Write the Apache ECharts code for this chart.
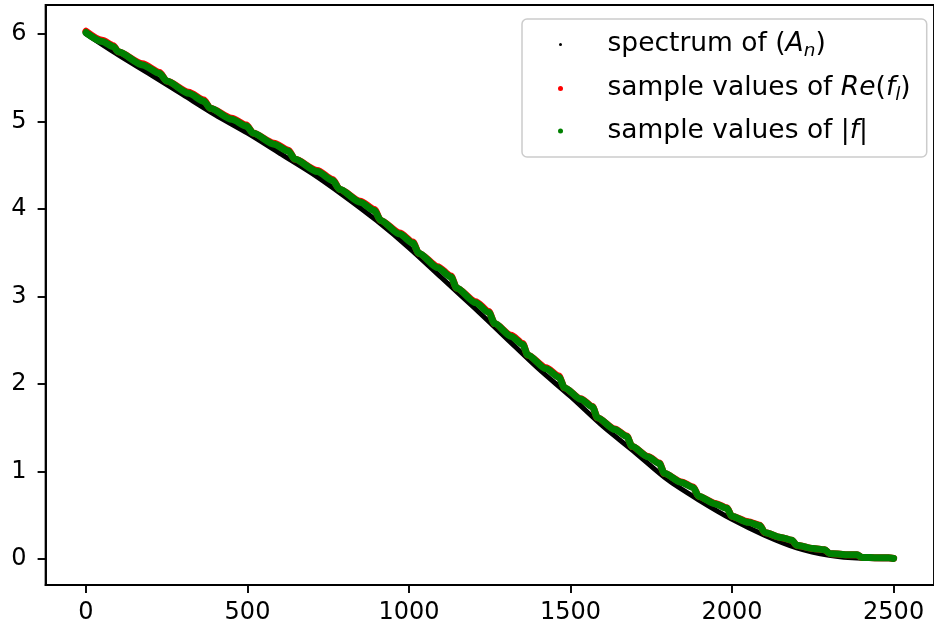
<!DOCTYPE html>
<html><head><meta charset="utf-8">
<script src="https://cdn.jsdelivr.net/npm/echarts@6.0.0/dist/echarts.min.js"></script>
<style>html,body{margin:0;padding:0;background:#fff}#c{width:934px;height:631px}</style>
</head><body><div id="c"></div>
<script>
// tick labels
const xTicks = [0, 500, 1000, 1500, 2000, 2500];
const yTicks = [0, 1, 2, 3, 4, 5, 6];

// spectrum of (A_n) (black), read every 100
const spectrumX = [0,100,200,300,400,500,600,700,800,900,1000,1100,1200,1300,1400,1500,1600,1700,1800,1900,2000,2100,2200,2300,2400,2500];
const spectrumY = [6.00,5.76,5.535,5.305,5.075,4.865,4.635,4.405,4.145,3.865,3.555,3.215,2.875,2.525,2.175,1.855,1.515,1.215,0.905,0.665,0.45,0.27,0.125,0.04,0.005,0.00];

// sample positions
const sampleX = [0,50,85,100,175,228,250,318,365,385,451,497,517,582,627,646,716,764,785,849,893,912,971,1012,1030,1089,1130,1147,1206,1247,1265,1316,1352,1367,1424,1464,1481,1532,1568,1583,1637,1674,1690,1740,1775,1790,1843,1880,1896,1948,1984,1999,2050,2086,2101,2151,2185,2200,2251,2287,2302,2352,2387,2402,2451,2485,2500];
// sample values of Re(f_l) (red)
const reY = [6.03,5.926,5.865,5.795,5.657,5.559,5.46,5.332,5.243,5.149,5.035,4.958,4.866,4.751,4.671,4.569,4.438,4.335,4.224,4.088,3.992,3.868,3.724,3.62,3.493,3.339,3.232,3.095,2.939,2.826,2.688,2.554,2.461,2.33,2.183,2.088,1.956,1.828,1.741,1.613,1.484,1.404,1.285,1.170,1.094,0.976,0.878,0.819,0.715,0.633,0.582,0.487,0.422,0.382,0.30,0.244,0.2125,0.155,0.118,0.102,0.061,0.047,0.045,0.015,0.011,0.012,0.003];
// sample values of |f| (green)
const absY = [6.015,5.914,5.853,5.795,5.645,5.547,5.46,5.32,5.231,5.149,5.023,4.946,4.866,4.739,4.659,4.569,4.426,4.323,4.224,4.076,3.98,3.868,3.712,3.608,3.493,3.327,3.22,3.095,2.927,2.814,2.688,2.542,2.449,2.33,2.171,2.076,1.956,1.822,1.735,1.613,1.478,1.398,1.285,1.164,1.088,0.976,0.872,0.813,0.715,0.627,0.576,0.487,0.416,0.376,0.30,0.244,0.2125,0.155,0.118,0.102,0.061,0.047,0.045,0.015,0.011,0.012,0.003];

const seriesNames = ['spectrum', 're', 'abs'];
const legendText = {
  spectrum: '{p|spectrum of (}{i|A}{s|n}{n|)}',
  re: '{p|sample values of }{i|Re}{n|(}{i|f}{s|l}{n|)}',
  abs: '{p|sample values of |}{i|f}{n||}'
};

const FONT = 'DejaVu Sans';
const LF = 26.5;
const zip = (xs, ys) => xs.map((x, i) => [x, ys[i]]);

const chart = echarts.init(document.getElementById('c'), null, {renderer: 'canvas'});
chart.setOption({
  animation: false,
  backgroundColor: '#ffffff',
  grid: {left: 45.6, top: 5, width: 892.7, height: 580, show: true, borderColor: '#000', borderWidth: 1.9, backgroundColor: 'transparent'},
  xAxis: {
    type: 'value', min: -125, max: 2625,
    axisLine: {show: true, onZero: false, lineStyle: {color: '#000', width: 1.9}},
    axisTick: {show: true, length: 8, lineStyle: {color: '#000', width: 1.9}, customValues: xTicks},
    axisLabel: {show: true, margin: 16, color: '#000', fontFamily: FONT, fontSize: 24, customValues: xTicks,
                formatter: v => String(v)},
    splitLine: {show: false}
  },
  yAxis: {
    type: 'value', min: -0.3, max: 6.33,
    axisLine: {show: true, onZero: false, lineStyle: {color: '#000', width: 1.9}},
    axisTick: {show: true, length: 8, lineStyle: {color: '#000', width: 1.9}, customValues: yTicks},
    axisLabel: {show: true, margin: 19, color: '#000', fontFamily: FONT, fontSize: 24, customValues: yTicks,
                formatter: v => String(v)},
    splitLine: {show: false}
  },
  legend: {
    left: 522, top: 19, orient: 'vertical',
    padding: [9, 16, 11, 35],
    itemWidth: 20, itemHeight: 5, itemGap: 11,
    backgroundColor: 'rgba(255,255,255,0.8)',
    borderColor: '#cccccc', borderWidth: 1.5, borderRadius: 5,
    data: [
      {name: 'spectrum', icon: 'circle', itemStyle: {color: '#000000', borderColor: '#ffffff', borderWidth: 2}},
      {name: 're', icon: 'circle', itemStyle: {color: '#ff0000', borderWidth: 0}},
      {name: 'abs', icon: 'circle', itemStyle: {color: '#008000', borderWidth: 0}}
    ],
    formatter: name => legendText[name],
    textStyle: {
      fontFamily: FONT, fontSize: LF, color: '#000', lineHeight: 30,
      rich: {
        p: {fontFamily: FONT, fontSize: LF, color: '#000', lineHeight: 30, padding: [0, 0, 0, 32]},
        n: {fontFamily: FONT, fontSize: LF, color: '#000', lineHeight: 30},
        i: {fontFamily: FONT, fontSize: LF, fontStyle: 'italic', color: '#000', lineHeight: 30},
        s: {fontFamily: FONT, fontSize: 18.5, fontStyle: 'italic', color: '#000', lineHeight: 16, padding: [14, 0, 0, 0]}
      }
    }
  },
  series: [
    {name: seriesNames[0], type: 'line', data: zip(spectrumX, spectrumY), showSymbol: false, symbol: 'none',
     smooth: 0.3,
     lineStyle: {color: '#000000', width: 5, cap: 'round', join: 'round'}, itemStyle: {color: '#000000'}, z: 2},
    {name: seriesNames[1], type: 'line', data: zip(sampleX, reY), showSymbol: false, symbol: 'none',
     smooth: 0.25, smoothMonotone: 'x',
     lineStyle: {color: '#ff0000', width: 7, cap: 'round', join: 'round'}, itemStyle: {color: '#ff0000'}, z: 3},
    {name: seriesNames[2], type: 'line', data: zip(sampleX, absY), showSymbol: false, symbol: 'none',
     smooth: 0.25, smoothMonotone: 'x',
     lineStyle: {color: '#008000', width: 7, cap: 'round', join: 'round'}, itemStyle: {color: '#008000'}, z: 4}
  ]
});
</script>
</body></html>
